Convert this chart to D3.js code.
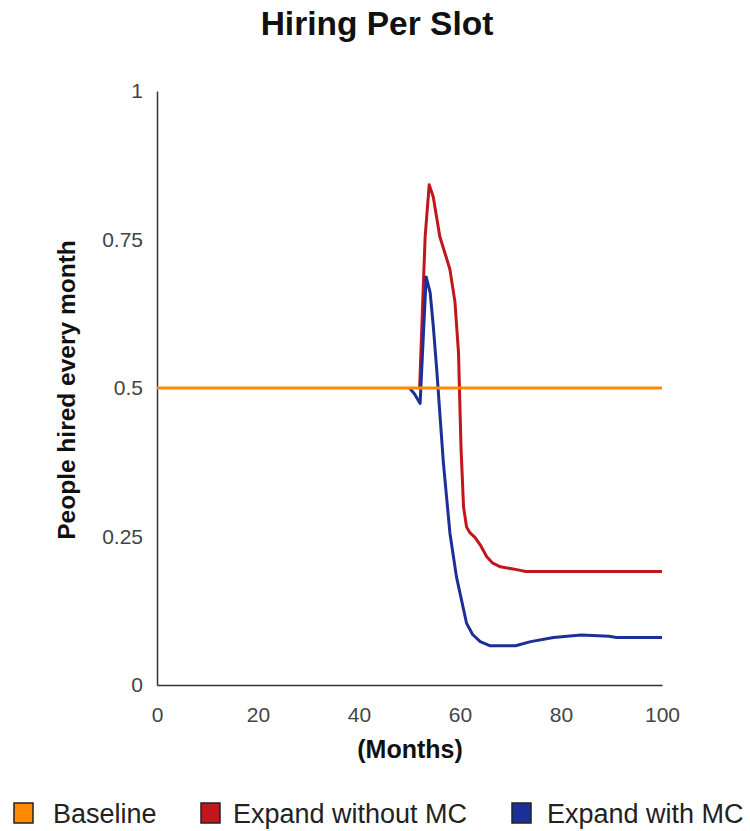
<!DOCTYPE html>
<html>
<head>
<meta charset="utf-8">
<script src="https://cdn.jsdelivr.net/npm/d3@7"></script>
<style>
  html, body { margin: 0; padding: 0; background: #fff; }
  svg { display: block; font-family: "Liberation Sans", Arial, sans-serif; }
</style>
</head>
<body>
<svg id="chart" width="750" height="831"></svg>
<script>
// ---- data ----
const seriesNames = ["Baseline", "Expand without MC", "Expand with MC"];
const seriesColors = ["#ff8a00", "#c0161c", "#1c2f96"];

const baselineMonths = [0, 100];
const baselineValues = [0.5, 0.5];

const noMcMonths = [52, 52.6, 53.1, 53.9, 54.7, 56, 58, 59, 59.7, 60.2, 60.7, 61.3, 62, 63, 64, 65.3, 66.5, 68, 70, 72, 73, 100];
const noMcValues = [0.50, 0.64, 0.755, 0.842, 0.822, 0.755, 0.70, 0.645, 0.56, 0.40, 0.30, 0.266, 0.256, 0.248, 0.236, 0.216, 0.205, 0.199, 0.196, 0.193, 0.191, 0.191];

const mcMonths = [50, 51, 52.1, 53.3, 54.1, 54.7, 55.4, 56.7, 58, 59.3, 61.3, 62.5, 64, 66, 71, 74, 78.5, 84, 89.5, 91, 100];
const mcValues = [0.50, 0.49, 0.474, 0.687, 0.66, 0.605, 0.53, 0.375, 0.256, 0.182, 0.104, 0.085, 0.073, 0.066, 0.066, 0.073, 0.080, 0.084, 0.082, 0.080, 0.080];

const xTicks = [0, 20, 40, 60, 80, 100];
const yTicks = [0, 0.25, 0.5, 0.75, 1];
const yTickLabels = ["0", "0.25", "0.5", "0.75", "1"];

const titleText = "Hiring Per Slot";
const xTitle = "(Months)";
const yTitle = "People hired every month";

// ---- drawing ----
const svg = d3.select("#chart");
const plotLeft = 157, plotRight = 662, plotTop = 91, plotBottom = 685;

const x = d3.scaleLinear().domain([0, 100]).range([plotLeft, plotRight]);
const y = d3.scaleLinear().domain([0, 1]).range([plotBottom, plotTop]);

// title
svg.append("text").attr("x", 377).attr("y", 35).attr("text-anchor", "middle")
  .attr("font-size", 33.5).attr("font-weight", "bold").attr("fill", "#111").text(titleText);

// axes
const xAxis = d3.axisBottom(x).tickValues(xTicks).tickSize(0).tickPadding(0).tickFormat(d3.format("d"));
const gx = svg.append("g").attr("transform", `translate(0,${plotBottom})`).call(xAxis);
gx.select(".domain").attr("stroke", "#333").attr("stroke-width", 1.5);
gx.selectAll("text").attr("font-size", 21).attr("fill", "#444")
  .attr("font-family", "Liberation Sans, Arial, sans-serif").attr("dy", null).attr("y", 37);

const yAxis = d3.axisLeft(y).tickValues(yTicks).tickSize(0).tickPadding(14)
  .tickFormat((d, i) => yTickLabels[i]);
const gy = svg.append("g").attr("transform", `translate(${plotLeft},0)`).call(yAxis);
gy.select(".domain").attr("stroke", "#333").attr("stroke-width", 1.5);
gy.selectAll("text").attr("font-size", 21).attr("fill", "#444")
  .attr("font-family", "Liberation Sans, Arial, sans-serif");

// axis titles
svg.append("text").attr("x", 410).attr("y", 758).attr("text-anchor", "middle")
  .attr("font-size", 25).attr("font-weight", "bold").attr("fill", "#111").text(xTitle);
svg.append("text").attr("transform", "translate(75,390) rotate(-90)").attr("text-anchor", "middle")
  .attr("font-size", 24.5).attr("font-weight", "bold").attr("fill", "#111").text(yTitle);

// lines
const line = d3.line().x(d => x(d[0])).y(d => y(d[1]));
const zip = (a, b) => a.map((m, i) => [m, b[i]]);
const series = [zip(baselineMonths, baselineValues), zip(noMcMonths, noMcValues), zip(mcMonths, mcValues)];
const drawOrder = [1, 2, 0];
drawOrder.forEach(i => {
  svg.append("path").datum(series[i]).attr("d", line)
    .attr("fill", "none").attr("stroke", seriesColors[i]).attr("stroke-width", 3)
    .attr("stroke-linejoin", "round").attr("stroke-linecap", "butt");
});

// legend
const legendX = [14, 201, 512];
const legendTextGap = [39, 32, 35];
const lg = svg.append("g");
seriesNames.forEach((name, i) => {
  lg.append("rect").attr("x", legendX[i]).attr("y", 803).attr("width", 19).attr("height", 20)
    .attr("fill", seriesColors[i]).attr("stroke", "#222").attr("stroke-width", 1.5);
  lg.append("text").attr("x", legendX[i] + legendTextGap[i]).attr("y", 823)
    .attr("font-size", 27).attr("fill", "#222").text(name);
});
</script>
</body>
</html>
